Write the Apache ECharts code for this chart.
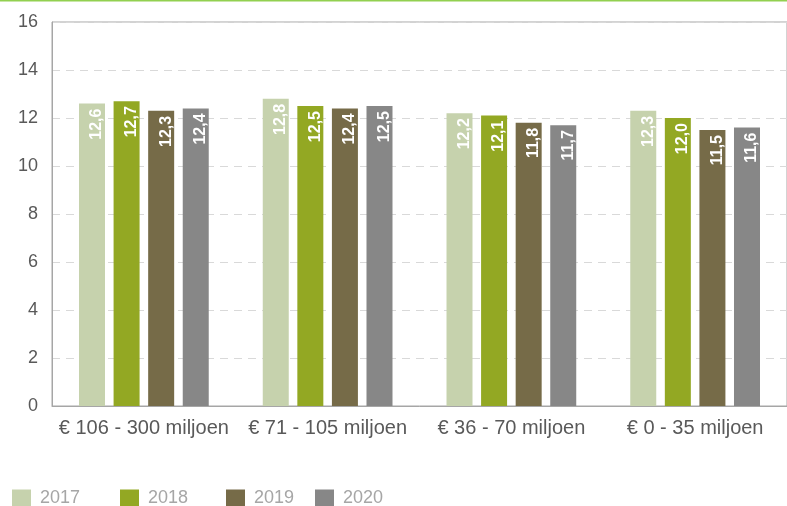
<!DOCTYPE html>
<html>
<head>
<meta charset="utf-8">
<script src="https://cdn.jsdelivr.net/npm/echarts@6/dist/echarts.min.js"></script>
<style>
  html, body { margin: 0; padding: 0; background: #fff; }
  #chart { width: 787px; height: 506px; }
</style>
</head>
<body>
<div id="chart"></div>
<script>
// Revenue bands and the yearly figures per band
const categories = ['€ 106 - 300 miljoen', '€ 71 - 105 miljoen', '€ 36 - 70 miljoen', '€ 0 - 35 miljoen'];
const years = ['2017', '2018', '2019', '2020'];
const values2017 = [12.6, 12.8, 12.2, 12.3];
const values2018 = [12.7, 12.5, 12.1, 12.0];
const values2019 = [12.3, 12.4, 11.8, 11.5];
const values2020 = [12.4, 12.5, 11.7, 11.6];
const yTicks = [0, 2, 4, 6, 8, 10, 12, 14, 16];

const colors = ['#c6d2ad', '#93a823', '#766b48', '#878787'];
const seriesValues = [values2017, values2018, values2019, values2020];
const font = '"Liberation Sans", Arial, sans-serif';

const chart = echarts.init(document.getElementById('chart'), null, { renderer: 'canvas' });

const series = years.map((y, i) => ({
  name: y,
  type: 'bar',
  data: seriesValues[i],
  barWidth: 26,
  barGap: '33%',
  itemStyle: { color: colors[i] },
  label: {
    show: true,
    position: 'insideTop',
    rotate: 90,
    align: 'right',
    verticalAlign: 'middle',
    offset: [0, 5],
    color: '#ffffff',
    fontWeight: 'bold',
    fontSize: 16,
    fontFamily: font,
    formatter: p => p.value.toFixed(1).replace('.', ',')
  }
}));

// One legend block per year so each entry sits at its own spot
const legendLefts = [12, 120, 226, 315];
const legends = years.map((y, i) => ({
  data: [y],
  left: legendLefts[i],
  top: 489,
  padding: 0,
  itemWidth: 19,
  itemHeight: 17,
  itemGap: 8,
  icon: 'rect',
  textStyle: { color: '#a6a6a6', fontSize: 18, fontFamily: font, padding: [0, 0, 0, 4] },
  selectedMode: false
}));

chart.setOption({
  animation: false,
  textStyle: { fontFamily: font },
  graphic: [{
    type: 'rect',
    shape: { x: 0, y: 0, width: 787, height: 1.5 },
    style: { fill: '#92d050' }
  }],
  legend: legends,
  grid: {
    left: 52, right: -6, top: 22, bottom: 100,
    show: true, borderColor: '#a6a6a6', borderWidth: 1
  },
  xAxis: {
    type: 'category',
    data: categories,
    axisLine: { lineStyle: { color: '#a6a6a6', width: 1 } },
    axisTick: { show: false },
    axisLabel: { interval: 0, color: '#595959', fontSize: 20, margin: 12, fontFamily: font }
  },
  yAxis: {
    type: 'value',
    min: yTicks[0],
    max: yTicks[yTicks.length - 1],
    interval: 2,
    axisLine: { show: true, lineStyle: { color: '#a6a6a6', width: 1 } },
    axisTick: { show: false },
    axisLabel: { color: '#595959', fontSize: 18, margin: 14, fontFamily: font },
    splitLine: { show: true, lineStyle: { color: '#d9d9d9', type: [8, 6], width: 1 } }
  },
  series: series
});
</script>
</body>
</html>
